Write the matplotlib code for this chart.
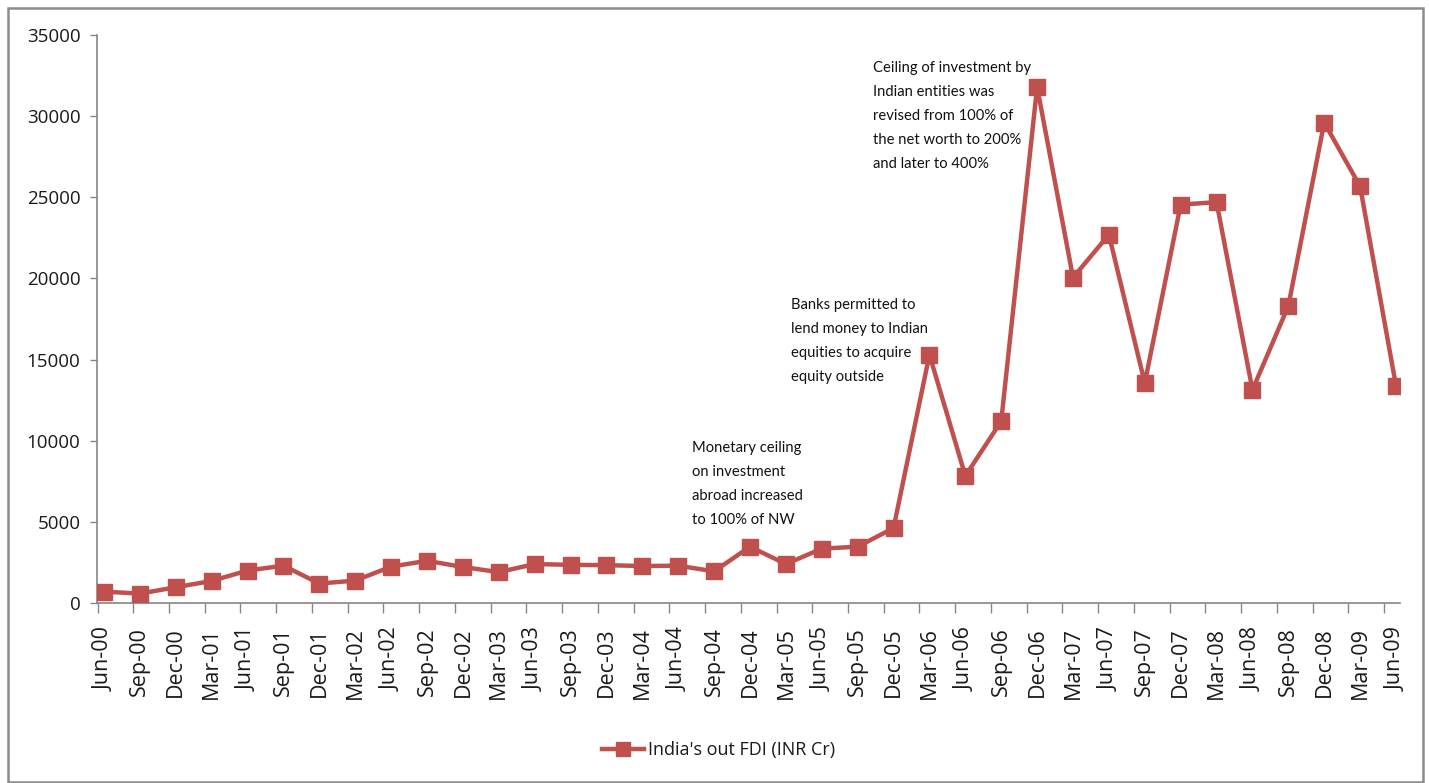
import numpy as np
import matplotlib
matplotlib.use("Agg")
import matplotlib.pyplot as plt
from matplotlib import font_manager
from matplotlib.patches import Rectangle

# Quarterly outward FDI from India (INR crore)
quarters = [
    "Jun-00", "Sep-00", "Dec-00", "Mar-01", "Jun-01", "Sep-01", "Dec-01", "Mar-02",
    "Jun-02", "Sep-02", "Dec-02", "Mar-03", "Jun-03", "Sep-03", "Dec-03", "Mar-04",
    "Jun-04", "Sep-04", "Dec-04", "Mar-05", "Jun-05", "Sep-05", "Dec-05", "Mar-06",
    "Jun-06", "Sep-06", "Dec-06", "Mar-07", "Jun-07", "Sep-07", "Dec-07", "Mar-08",
    "Jun-08", "Sep-08", "Dec-08", "Mar-09", "Jun-09",
]
out_fdi = [
    700, 580, 970, 1360, 2000, 2300, 1200, 1380,
    2240, 2600, 2220, 1900, 2400, 2350, 2330, 2280,
    2300, 1950, 3470, 2400, 3350, 3470, 4620, 15300,
    7830, 11200, 31800, 20050, 22700, 13550, 24550, 24700,
    13130, 18300, 29600, 25670, 13380,
]
series_name = "India's out FDI (INR Cr)"
y_ticks = [0, 5000, 10000, 15000, 20000, 25000, 30000, 35000]

notes = [
    ("Monetary ceiling\non investment\nabroad increased\nto 100% of NW", "Dec-04"),
    ("Banks permitted to\nlend money to Indian\nequities to acquire\nequity outside", "Mar-06"),
    ("Ceiling of investment by\nIndian entities was\nrevised from 100% of\nthe net worth to 200%\nand later to 400%", "Dec-06"),
]


def pick_font(candidates):
    for name in candidates:
        try:
            font_manager.findfont(name, fallback_to_default=False)
            return name
        except Exception:
            continue
    return "DejaVu Sans"


tick_font = pick_font(["Open Sans", "Noto Sans", "DejaVu Sans"])
note_font = pick_font(["Liberation Sans Narrow", "Lato", "DejaVu Sans"])

RED = "#C0504D"
AXIS_GREY = "#868686"
TEXT = "#1a1a1a"

W, H = 1429, 783
fig = plt.figure(figsize=(W / 100, H / 100), dpi=100)
fig.patch.set_facecolor("white")

# outer chart border
fig.patches.append(Rectangle((8 / W, 1 / H), 1415 / W, 774 / H, transform=fig.transFigure,
                             fill=False, edgecolor="#8c8c8c", linewidth=1.8))

ax = fig.add_axes([97 / W, 1 - 603 / H, (1400 - 97) / W, (603 - 35) / H])
x = np.arange(len(quarters))
ax.plot(x, out_fdi, color=RED, linewidth=3.2, marker="s", markersize=11,
        markerfacecolor=RED, markeredgecolor=RED, label=series_name, zorder=3)

px = 36 / (1396 - 104)
ax.set_xlim(-7 * px, 36 + 4 * px)
ax.set_ylim(0, 35000)

for side in ("top", "right"):
    ax.spines[side].set_visible(False)
for side in ("left", "bottom"):
    ax.spines[side].set_color(AXIS_GREY)
    ax.spines[side].set_linewidth(1.2)

ax.set_yticks(y_ticks)
ax.set_yticklabels([str(v) for v in y_ticks], fontfamily=tick_font, fontsize=13.5, color=TEXT)
ax.tick_params(axis="y", length=5, width=1, color=AXIS_GREY, pad=7)

ax.set_xticks(x)
ax.set_xticklabels(quarters, rotation=90, fontfamily=tick_font, fontsize=15.5, color=TEXT)
ax.tick_params(axis="x", which="major", length=0, pad=17.5)
ax.set_xticks(np.linspace(-0.18, (1384 - 104) * px, len(quarters)), minor=True)
ax.tick_params(axis="x", which="minor", length=7, width=1, color=AXIS_GREY)

# annotation text blocks (left-aligned, placed above their quarters)
note_pos = {
    "Dec-04": (692, 441),
    "Mar-06": (791, 298),
    "Dec-06": (873, 61),
}
for text, anchor in notes:
    xp, yp = note_pos[anchor]
    fig.text(xp / W, 1 - yp / H, text, fontfamily=note_font, fontsize=10.6,
             color="#111111", ha="left", va="top", linespacing=1.92)

leg = fig.legend(loc="center", bbox_to_anchor=(719 / W, 1 - 750 / H), frameon=False,
                 prop={"family": tick_font, "size": 13}, handlelength=2.3,
                 handletextpad=0.25, markerscale=0.95)
for t in leg.get_texts():
    t.set_color(TEXT)

fig.savefig("out.png", dpi=100, facecolor="white")
